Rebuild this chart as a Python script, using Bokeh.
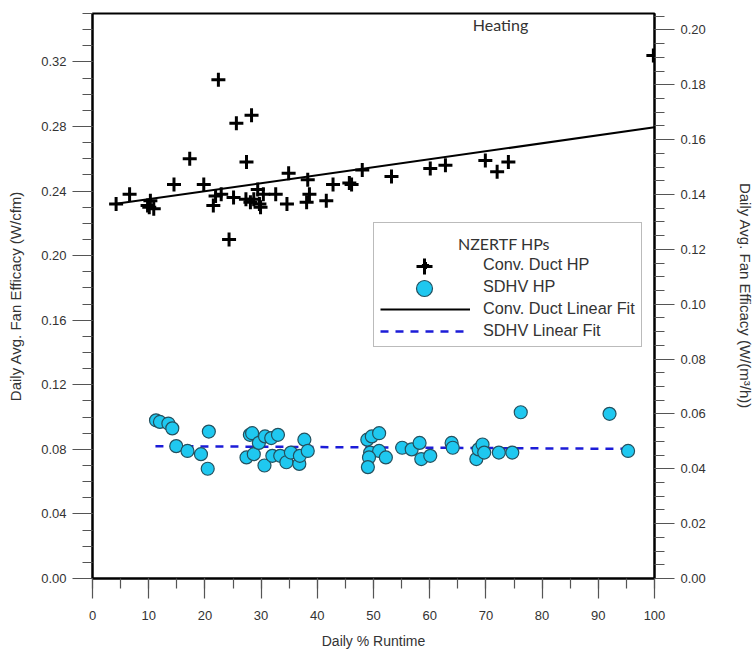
from bokeh.plotting import figure
from bokeh.models import (Range1d, LinearAxis, FixedTicker, Legend, LegendItem,
                          Label, PrintfTickFormatter)
from bokeh.embed import file_html
from bokeh.resources import INLINE

# ---- data ----
conv_x = [4.2, 6.6, 9.8, 10.3, 10.9, 10.1, 14.5, 17.3, 19.8, 21.5, 21.9, 22.9,
          22.4, 24.3, 25.1, 25.6, 27.4, 28.3, 27.3, 28.1, 28.7, 29.4, 29.7, 29.9,
          30.4, 32.6, 34.6, 34.9, 38.1, 38.3, 38.6, 41.6, 42.8, 45.7, 46.1, 48.0,
          53.2, 60.1, 62.8, 69.9, 72.0, 74.0, 99.8]
conv_y = [0.232, 0.238, 0.231, 0.234, 0.229, 0.230, 0.244, 0.260, 0.244, 0.231, 0.237, 0.238,
          0.309, 0.210, 0.236, 0.282, 0.258, 0.287, 0.235, 0.233, 0.235, 0.241, 0.232, 0.230,
          0.238, 0.238, 0.232, 0.251, 0.233, 0.247, 0.238, 0.234, 0.244, 0.245, 0.244, 0.253,
          0.249, 0.254, 0.256, 0.259, 0.252, 0.258, 0.324]

sdhv_x = [11.3, 12.0, 13.5, 14.2, 14.9, 16.9, 19.3, 20.7, 20.5, 27.4, 28.0, 28.4,
          28.7, 29.6, 30.6, 30.7, 31.8, 33.0, 32.0, 33.4, 34.5, 35.3, 36.8, 36.9,
          37.7, 38.3, 48.9, 49.7, 51.0, 49.4, 51.0, 49.2, 52.2, 49.0, 55.1, 56.8,
          58.2, 58.5, 60.1, 63.9, 64.1, 68.3, 68.7, 69.4, 69.7, 72.3, 74.7, 76.2,
          92.0, 95.3]
sdhv_y = [0.098, 0.097, 0.096, 0.093, 0.082, 0.079, 0.077, 0.091, 0.068, 0.075, 0.089, 0.090,
          0.077, 0.084, 0.070, 0.088, 0.087, 0.089, 0.076, 0.076, 0.072, 0.078, 0.071, 0.076,
          0.086, 0.079, 0.086, 0.088, 0.090, 0.078, 0.079, 0.075, 0.075, 0.069, 0.081, 0.080,
          0.084, 0.074, 0.076, 0.084, 0.081, 0.074, 0.080, 0.083, 0.078, 0.078, 0.078, 0.103,
          0.102, 0.079]

conv_fit_x = [4.2, 100.0]
conv_fit_y = [0.2321, 0.2795]
sdhv_fit_x = [11.2, 95.5]
sdhv_fit_y = [0.0820, 0.0803]

x_major = [0, 10, 20, 30, 40, 50, 60, 70, 80, 90, 100]
x_minor = [5 * i for i in range(21)]
left_major = [0.00, 0.04, 0.08, 0.12, 0.16, 0.20, 0.24, 0.28, 0.32]
left_minor = [round(0.01 * i, 3) for i in range(36)]
right_major = [0.00, 0.02, 0.04, 0.06, 0.08, 0.10, 0.12, 0.14, 0.16, 0.18, 0.20]
right_minor = [round(0.005 * i, 4) for i in range(42)]

LEFT_TOP = 0.35
CFM_TO_M3H = 1.699
RIGHT_TOP = LEFT_TOP / CFM_TO_M3H

TEXT = "#333333"
TICK = "#555555"
FONT = "Liberation Sans"

p = figure(width=756, height=651, x_range=Range1d(0, 100), y_range=Range1d(0, LEFT_TOP),
           output_backend="svg", toolbar_location=None,
           min_border_left=92, min_border_right=99, min_border_top=13, min_border_bottom=73,
           background_fill_color="white", border_fill_color="white")
p.grid.visible = False
p.outline_line_color = "black"
p.outline_line_width = 2

p.extra_y_ranges = {"right": Range1d(0, RIGHT_TOP)}
raxis = LinearAxis(y_range_name="right")
p.add_layout(raxis, "right")

xa = p.xaxis[0]
xa.ticker = FixedTicker(ticks=x_major, minor_ticks=x_minor)
xa.axis_label = "Daily % Runtime"
xa.major_label_standoff = 12
xa.axis_label_standoff = 10

ya = p.yaxis[0]
ya.ticker = FixedTicker(ticks=left_major, minor_ticks=left_minor)
ya.formatter = PrintfTickFormatter(format="%.2f")
ya.axis_label = "Daily Avg. Fan Efficacy (W/cfm)"
ya.major_label_standoff = 6
ya.axis_label_standoff = 14

raxis.ticker = FixedTicker(ticks=right_major, minor_ticks=right_minor)
raxis.formatter = PrintfTickFormatter(format="%.2f")
raxis.axis_label = "Daily Avg. Fan Efficacy (W/(m\u00b3/h))"
raxis.major_label_standoff = 6
raxis.axis_label_standoff = 28

for ax in [xa, ya, raxis]:
    ax.major_tick_in = 0
    ax.major_tick_out = 20
    ax.minor_tick_in = 0
    ax.minor_tick_out = 10
    ax.major_tick_line_color = TICK
    ax.minor_tick_line_color = TICK
    ax.major_tick_line_width = 1.2
    ax.minor_tick_line_width = 1.2
    ax.axis_line_color = "black"
    ax.axis_line_width = 2
    ax.major_label_text_font = FONT
    ax.major_label_text_font_size = "13px"
    ax.major_label_text_color = TEXT
    ax.axis_label_text_font = FONT
    ax.axis_label_text_font_size = "14px"
    ax.axis_label_text_font_style = "normal"
    ax.axis_label_text_color = TEXT
ya.axis_label_text_font_size = "15px"
raxis.axis_label_text_font_size = "15px"

# ---- glyphs ----
conv_fit = p.line(conv_fit_x, conv_fit_y, line_color="black", line_width=2)
sdhv_fit = p.line(sdhv_fit_x, sdhv_fit_y, line_color="#1c1cd8", line_width=2.5,
                  line_dash="8 7")
conv_pts = p.scatter(conv_x, conv_y, marker="cross", size=14, line_color="black",
                     line_width=3)
sdhv_pts = p.scatter(sdhv_x, sdhv_y, marker="circle", size=13, fill_color="#1fc8f0",
                     line_color="#24505e", line_width=1.2)

# main legend box (title space reserved; title text drawn by a second legend)
legend = Legend(items=[LegendItem(label="Conv. Duct HP", renderers=[conv_pts]),
                       LegendItem(label="SDHV HP", renderers=[sdhv_pts]),
                       LegendItem(label="Conv. Duct Linear Fit", renderers=[conv_fit]),
                       LegendItem(label="SDHV Linear Fit", renderers=[sdhv_fit])],
                location=(281, 231), title=" ", title_text_font="Lato",
                title_text_font_size="16px", title_standoff=7,
                padding=6, margin=0, spacing=3, glyph_width=90, glyph_height=18,
                label_standoff=13, label_text_font=FONT, label_text_font_size="16.3px",
                label_text_color=TEXT, border_line_color="#777777", border_line_width=1.5,
                background_fill_color="white", background_fill_alpha=1.0)
p.add_layout(legend, "center")

# larger markers drawn over the legend's first two rows
legend_cross = Legend(items=[LegendItem(label=" ", renderers=[conv_pts])],
                      location=(287, 292), padding=0, margin=0, spacing=0,
                      glyph_width=90, glyph_height=40, label_standoff=0,
                      label_text_font_size="10px",
                      border_line_color=None, background_fill_alpha=0.0)
p.add_layout(legend_cross, "center")
legend_circle = Legend(items=[LegendItem(label=" ", renderers=[sdhv_pts])],
                       location=(287, 270), padding=0, margin=0, spacing=0,
                       glyph_width=90, glyph_height=40, label_standoff=0,
                       label_text_font_size="10px",
                       border_line_color=None, background_fill_alpha=0.0)
p.add_layout(legend_circle, "center")

# centred legend title
legend_title = Legend(items=[LegendItem(label="NZERTF HPs", renderers=[conv_fit])],
                      location=(366, 325), padding=0, margin=0, spacing=0,
                      glyph_width=0, glyph_height=20, label_standoff=0,
                      label_text_font="Lato", label_text_font_size="16px",
                      label_text_color=TEXT,
                      border_line_color=None, background_fill_alpha=0.0)
p.add_layout(legend_title, "center")

p.add_layout(Label(x=72.6, y=0.343, text="Heating", text_align="center",
                   text_baseline="middle", text_font="Lato", text_font_size="16px",
                   text_color=TEXT))

open("out.html", "w").write(file_html(p, INLINE))
